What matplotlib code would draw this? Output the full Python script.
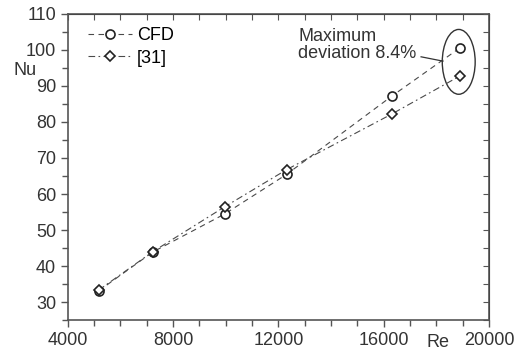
import matplotlib.pyplot as plt
from matplotlib.patches import Ellipse
from matplotlib.ticker import MultipleLocator

plt.rcParams['font.family'] = ['Liberation Sans', 'DejaVu Sans']

re = [5170, 7230, 9970, 12320, 16330, 18900]
nu_cfd = [33.1, 43.9, 54.5, 65.5, 87.3, 100.6]
nu_ref = [33.3, 44.0, 56.5, 66.8, 82.3, 92.8]

grey = '#4a4a4a'
fs = 13
fig = plt.figure(figsize=(5.18, 3.49), dpi=100)
ax = fig.add_axes([0.131, 0.083, 0.813, 0.877])

ax.plot(re, nu_cfd, ls=(0, (5, 4)), lw=0.8, color=grey, marker='o', ms=6.5,
        mfc='white', mec='#222222', mew=1.2, label='CFD')
ax.plot(re, nu_ref, ls=(0, (6, 3, 1.5, 3)), lw=0.8, color=grey, marker='D', ms=5.5,
        mfc='white', mec='#222222', mew=1.2, label='[31]')

ax.set_xlim(4000, 20000)
ax.set_ylim(25, 110)
ax.xaxis.set_major_locator(MultipleLocator(4000))
ax.xaxis.set_minor_locator(MultipleLocator(1000))
ax.yaxis.set_minor_locator(MultipleLocator(5))
ax.set_yticks([30, 40, 50, 60, 70, 80, 90, 100, 110])
ax.tick_params(which='both', direction='out', colors='#555555', labelcolor='#333333',
               labelsize=fs, width=1)
ax.tick_params(which='major', length=5)
ax.tick_params(which='minor', length=4)
for s in ax.spines.values():
    s.set_color('#555555')
    s.set_linewidth(1.2)

# inward ticks on top and right
top = ax.secondary_xaxis('top')
top.xaxis.set_major_locator(MultipleLocator(1000))
top.tick_params(direction='in', length=4, colors='#555555', labeltop=False)
right = ax.secondary_yaxis('right')
right.yaxis.set_major_locator(MultipleLocator(5))
right.tick_params(direction='in', length=4, colors='#555555', labelright=False)

ax.legend(loc='upper left', frameon=False, fontsize=fs, handlelength=2.4,
          handletextpad=0.3, labelspacing=0.3, bbox_to_anchor=(0.01, 1.01))

ax.add_patch(Ellipse((18850, 96.7), 1250, 18, fill=False, ec='#333333', lw=1))
ax.text(12745, 106.0, 'Maximum\ndeviation 8.4%', fontsize=fs, color='#333333',
        va='top', ha='left', linespacing=1.0)
ax.plot([17420, 18250], [98.1, 96.9], color='#333333', lw=0.9)

fig.text(0.048, 0.797, 'Nu', fontsize=fs, color='#333333', ha='center', va='center')
fig.text(0.845, 0.02, 'Re', fontsize=fs, color='#333333', ha='center', va='center')

fig.savefig('out.png', dpi=100)
